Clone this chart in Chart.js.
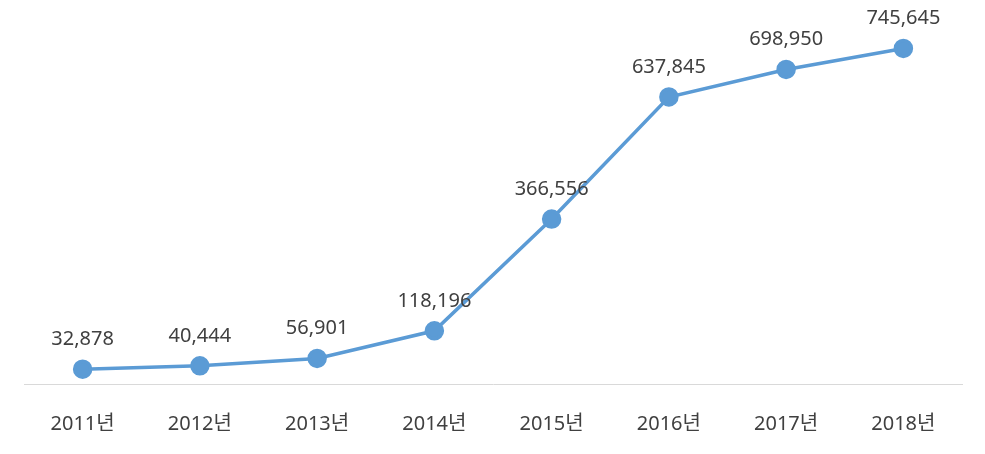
<!DOCTYPE html>
<html lang="ko">
<head>
    <meta charset="UTF-8">
    <title>연도별 추이</title>
    <style>
        body {
          margin: 0;
          padding: 0;
          background: #fff;
        }
        .wrap {
          width: 985px;
          height: 454px;
        }
    </style>
</head>
<body>
<div class="wrap">
    <canvas id="lineChart" width="985" height="454"></canvas>
</div>

<script src="https://cdn.jsdelivr.net/npm/chart.js"></script>
<script>
    // Chart data
    const years = ['2011년', '2012년', '2013년', '2014년', '2015년', '2016년', '2017년', '2018년'];
    const counts = [32878, 40444, 56901, 118196, 366556, 637845, 698950, 745645];

    const FONT = '"Noto Sans", "Noto Sans CJK KR", sans-serif';
    const TEXT = '#404040';

    // Draw value labels above each point
    const valueLabels = {
      id: 'valueLabels',
      afterDatasetsDraw(chart) {
        const ctx = chart.ctx;
        const meta = chart.getDatasetMeta(0);
        ctx.save();
        ctx.font = '20px ' + FONT;
        ctx.fillStyle = TEXT;
        ctx.textAlign = 'center';
        ctx.textBaseline = 'middle';
        meta.data.forEach((pt, i) => {
          ctx.fillText(counts[i].toLocaleString('en-US'), pt.x, pt.y - 30);
        });
        ctx.restore();
      }
    };

    const ctx = document.getElementById('lineChart').getContext('2d');
    new Chart(ctx, {
      type: 'line',
      data: {
        labels: years,
        datasets: [{
          data: counts,
          borderColor: '#5b9bd5',
          backgroundColor: '#5b9bd5',
          borderWidth: 3.5,
          pointRadius: 8,
          pointHoverRadius: 8,
          tension: 0
        }]
      },
      options: {
        responsive: false,
        animation: false,
        layout: {
          padding: { left: 24, right: 23, top: 24, bottom: 0 }
        },
        plugins: {
          legend: { display: false },
          tooltip: { enabled: false }
        },
        scales: {
          x: {
            offset: true,
            grid: { display: false },
            border: { display: true, color: '#d9d9d9', width: 1 },
            ticks: {
              color: TEXT,
              font: { family: FONT, size: 20 },
              padding: 20
            },
            afterFit(scale) {
              scale.height = 70;
            }
          },
          y: {
            display: false,
            min: 0,
            max: 800000
          }
        }
      },
      plugins: [valueLabels]
    });
</script>
</body>
</html>
